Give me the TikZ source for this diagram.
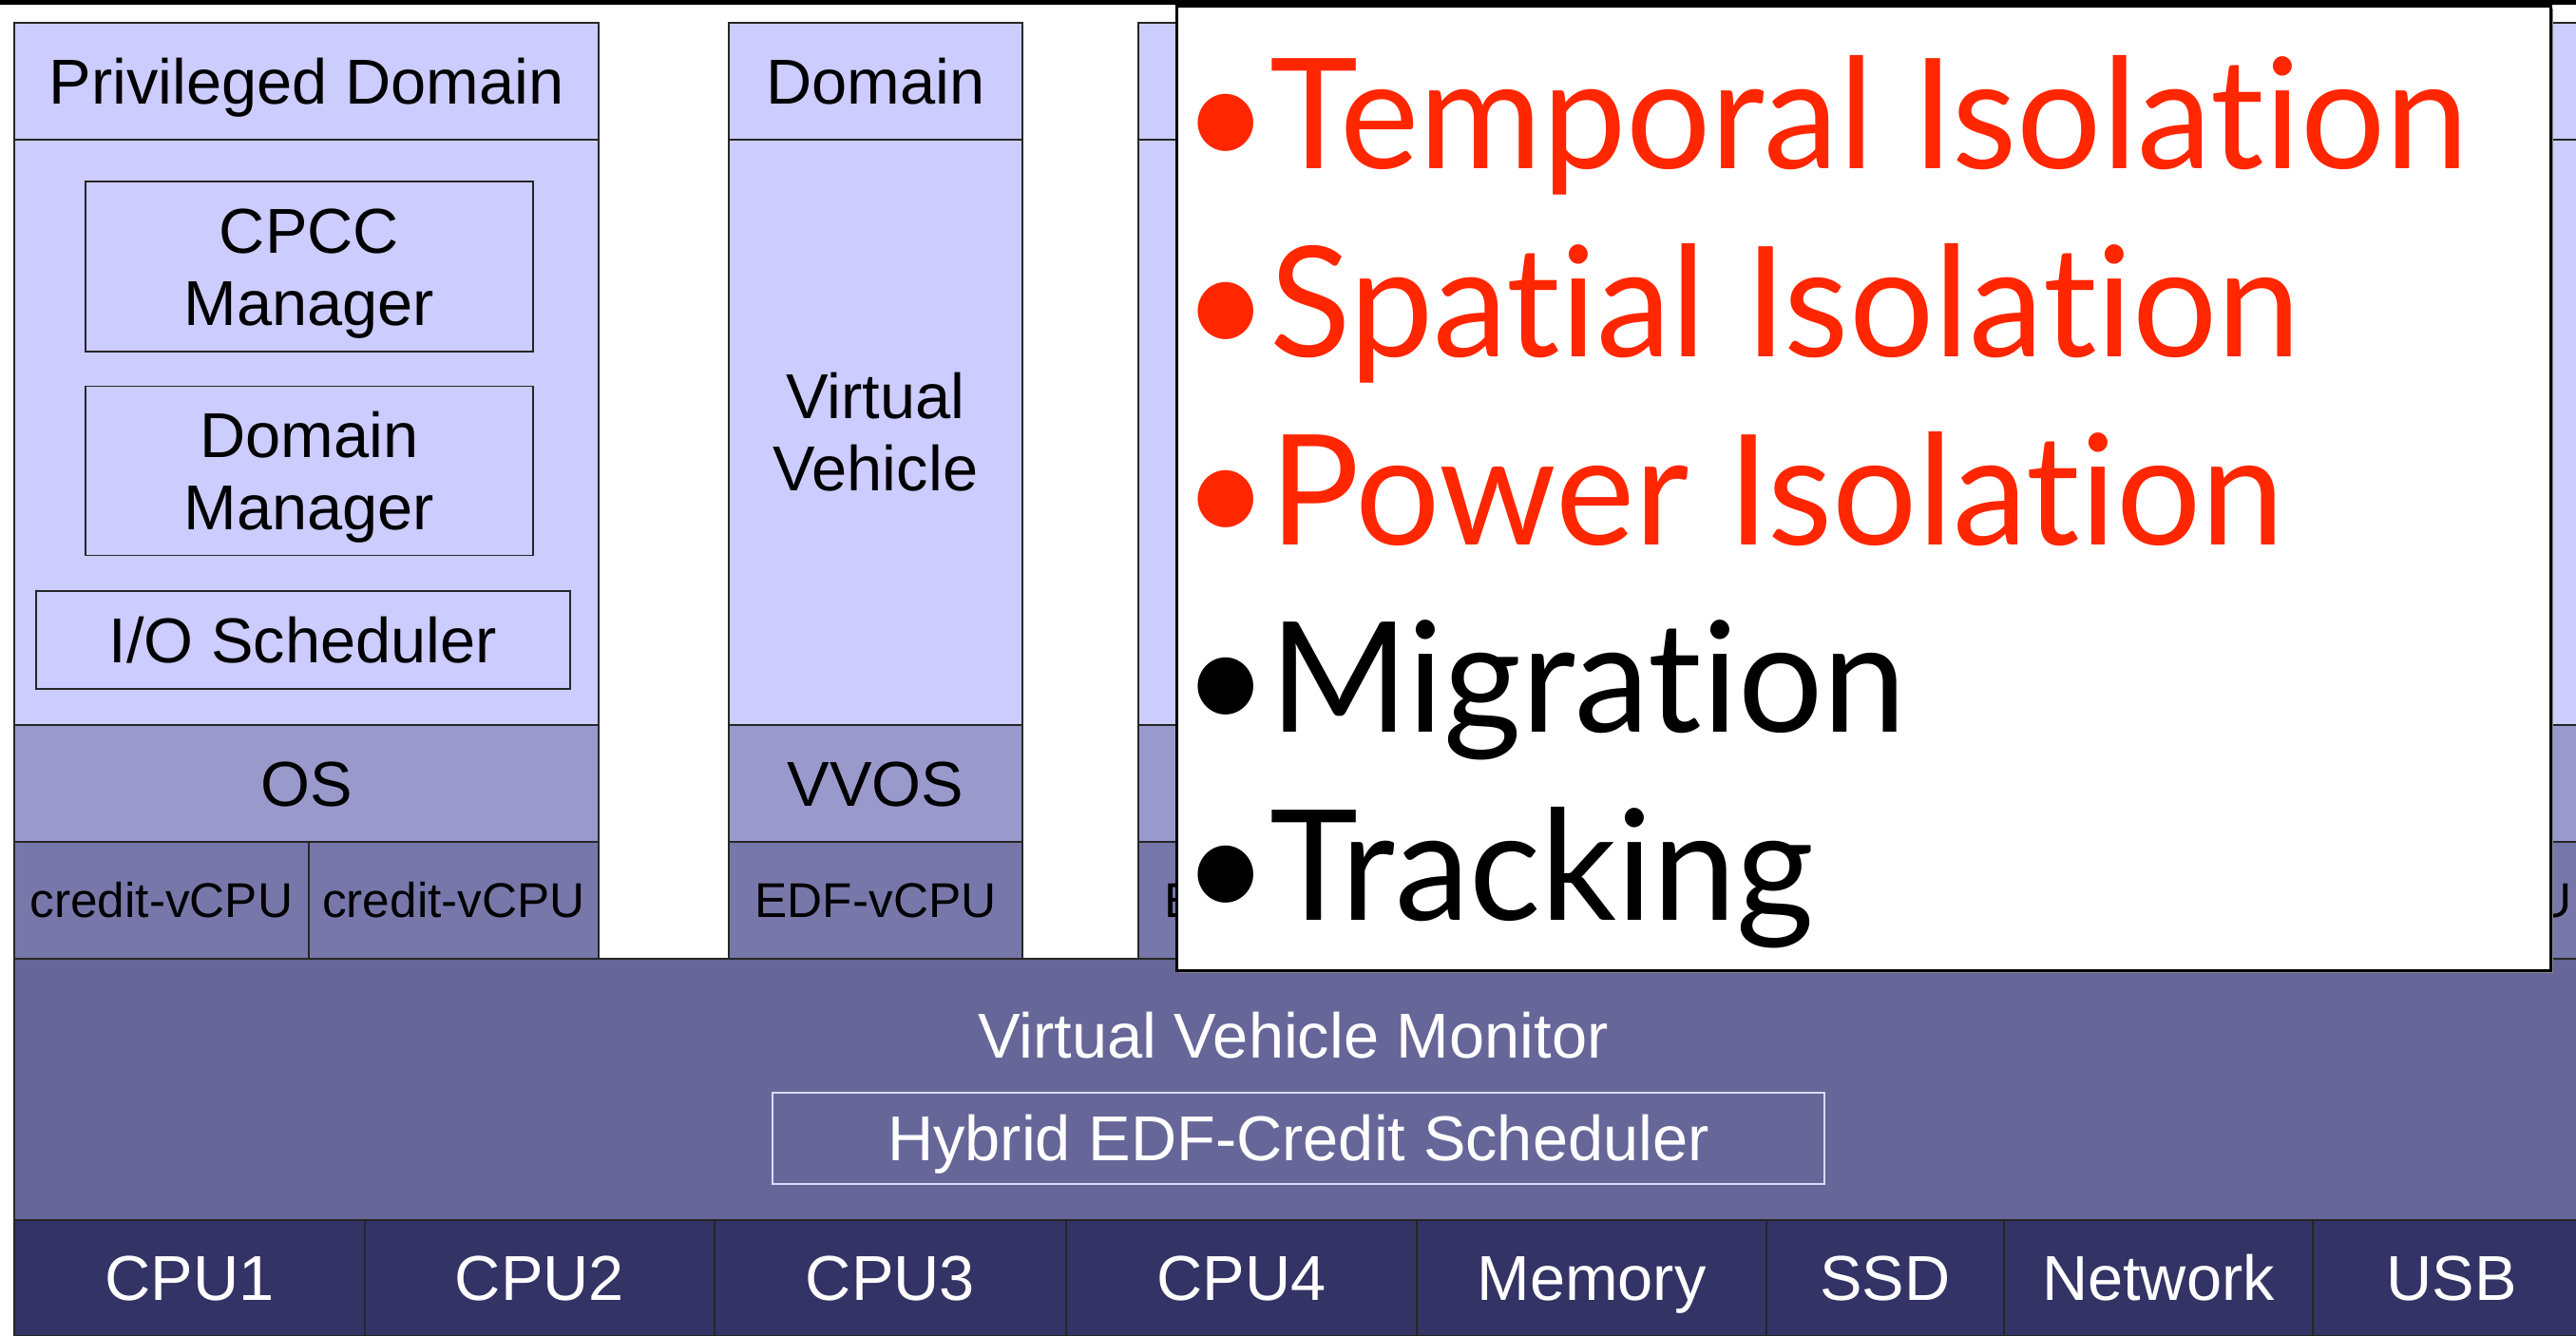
\documentclass[tikz,border=0pt]{standalone}
\usepackage{fontspec}
\setmainfont{Liberation Sans}
\newfontfamily\gill[Ligatures=NoCommon,FakeStretch=0.975]{Lato}
\usetikzlibrary{positioning}
\usetikzlibrary{shadows}
\definecolor{guestfill}{HTML}{CCCCFF}
\definecolor{osfill}{HTML}{9999CC}
\definecolor{vcpufill}{HTML}{7777AA}
\definecolor{vvmfill}{HTML}{666699}
\definecolor{hwfill}{HTML}{333366}
\definecolor{isored}{HTML}{FF2600}
\tikzset{
layer/.style={draw=black!85,line width=0.45pt,inner sep=0pt,outer sep=0pt,align=center,font=\fontsize{19}{21.6}\selectfont},
one line/.style={text height=13.6pt,text depth=0pt},
guest/.style={layer,fill=guestfill},
dom head/.style={guest,one line,minimum height=1.23cm},
dom body/.style={guest,minimum height=6.16cm},
os layer/.style={layer,one line,fill=osfill,minimum height=1.23cm},
vcpu layer/.style={layer,fill=vcpufill,minimum height=1.23cm,font=\fontsize{14.6}{17}\selectfont,
  text height=10.5pt,text depth=0pt},
tool box/.style={draw=black!85,line width=0.45pt,inner sep=0pt,align=center,font=\fontsize{19}{21.6}\selectfont},
hw/.style={layer,one line,fill=hwfill,text=white,minimum height=1.22cm,anchor=north west},
panel/.style={draw=black,line width=0.9pt,fill=white,inner sep=0pt,
  drop shadow={shadow xshift=0.025cm,shadow yshift=-0.025cm,fill=black!45,opacity=1}},
point/.style={anchor=base west,inner sep=0pt,font=\gill\fontsize{46}{50}\selectfont},
}

\begin{document}
\begin{tikzpicture}
\useasboundingbox (0,0) rectangle (27.11,-14.05);
\clip (0,0) rectangle (27.11,-14.05);
\fill[black] (0,0) rectangle (27.11,-0.045);

% privileged domain
\node[dom head,minimum width=6.15cm,anchor=north west] (pdhead) at (0.15,-0.24) {Privileged Domain};
\node[dom body,minimum width=6.15cm,below=0pt of pdhead] (pdbody) {};
\node[os layer,minimum width=6.15cm,below=0pt of pdbody] (pdos) {OS};
\node[vcpu layer,minimum width=3.10cm,anchor=north west] (vcpuA) at (pdos.south west) {credit-vCPU};
\node[vcpu layer,minimum width=3.05cm,right=0pt of vcpuA] (vcpuB) {credit-vCPU};
\node[tool box,minimum width=4.71cm,minimum height=1.79cm] (cpcc) at (3.255,-2.805) {\rule{0pt}{0.93em}CPCC\\Manager};
\node[tool box,minimum width=4.71cm,minimum height=1.78cm,below=0.35cm of cpcc] (dommgr) {\rule{0pt}{0.93em}Domain\\Manager};
\node[tool box,minimum width=5.62cm,minimum height=1.03cm,one line] (iosched) at (3.19,-6.735) {I/O Scheduler};

% virtual vehicle domains
\node[dom head,minimum width=3.09cm,anchor=north west] (vvhead) at (7.67,-0.24) {Domain};
\node[dom body,minimum width=3.09cm,below=0pt of vvhead] (vvbody) {Virtual\\Vehicle};
\node[os layer,minimum width=3.09cm,below=0pt of vvbody] (vvos) {VVOS};
\node[vcpu layer,minimum width=3.09cm,below=0pt of vvos] (vvcpu) {EDF-vCPU};
\foreach \x/\n in {11.98/c,24.25/d}{
  \node[dom head,minimum width=3.09cm,anchor=north west] (\n-head) at (\x,-0.24) {};
  \node[dom body,minimum width=3.09cm,below=0pt of \n-head] (\n-body) {};
  \node[os layer,minimum width=3.09cm,below=0pt of \n-body] (\n-os) {};
  \node[vcpu layer,minimum width=3.09cm,below=0pt of \n-os] (\n-cpu) {EDF-vCPU};
}

% monitor
\node[layer,fill=vvmfill,minimum width=27.3cm,minimum height=2.75cm,anchor=north west] (vvm) at (0.15,-10.09) {};
\node[one line,inner sep=0pt,text=white,font=\fontsize{19}{21.6}\selectfont] (vvmlabel) at (13.61,-10.90) {Virtual Vehicle Monitor};
\node[draw=guestfill!70!white,line width=0.45pt,one line,inner sep=0pt,text=white,font=\fontsize{19}{21.6}\selectfont,
  minimum width=11.07cm,minimum height=0.96cm] (hybrid) at (13.665,-11.98) {Hybrid EDF-Credit Scheduler};

% hardware
\foreach \x/\w/\t/\n in {0.15/3.69/CPU1/cpu1,3.84/3.68/CPU2/cpu2,7.52/3.70/CPU3/cpu3,11.22/3.69/CPU4/cpu4,
  14.91/3.68/Memory/mem,18.59/2.50/SSD/ssd,21.09/3.25/Network/net,24.34/2.92/USB/usb}
  \node[hw,minimum width=\w cm] (\n) at (\x,-12.84) {\t};

% overlay
\node[panel,minimum width=14.46cm,minimum height=10.15cm,anchor=north west] (panel) at (12.37,-0.05) {};
\node[point,text=isored] (temporal) at (12.44,-1.775) {•Temporal Isolation};
\node[point,text=isored] (spatial) at (12.44,-3.75) {•Spatial Isolation};
\node[point,text=isored] (power) at (12.44,-5.73) {•Power Isolation};
\node[point] (migration) at (12.44,-7.70) {•Migration};
\node[point] (tracking) at (12.44,-9.68) {•Tracking};
\end{tikzpicture}
\end{document}
